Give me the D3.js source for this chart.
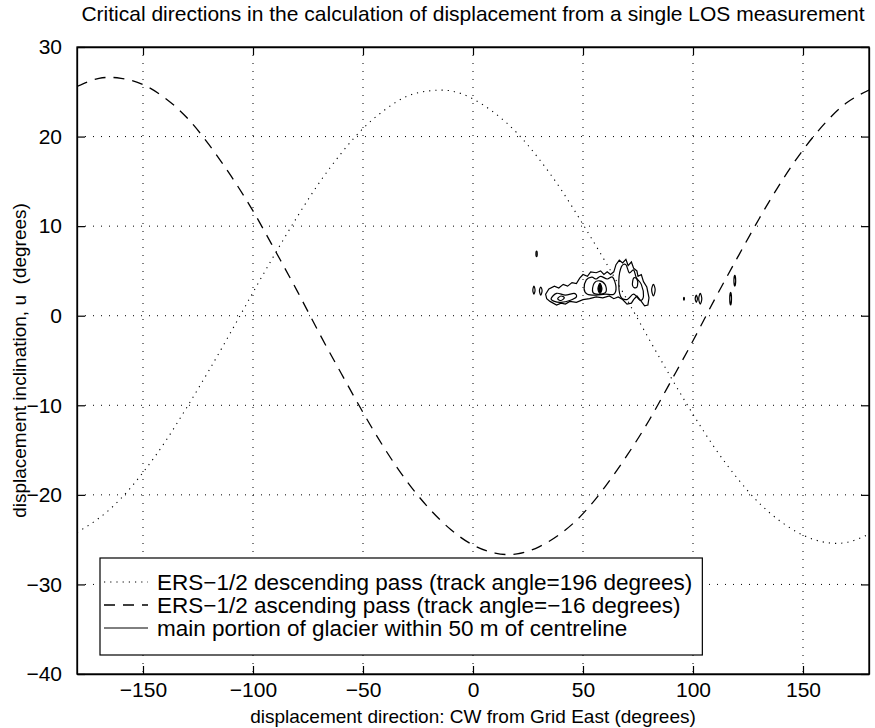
<!DOCTYPE html>
<html><head><meta charset="utf-8">
<script src="https://cdn.jsdelivr.net/npm/d3@7"></script>
<style>body{margin:0;background:#fff}svg{display:block}text{font-family:"Liberation Sans",Arial,Helvetica,sans-serif;fill:#000;white-space:pre}</style>
</head><body><svg id="c" width="875" height="728"></svg>
<script>
const title = "Critical directions in the calculation of displacement from a single LOS measurement";
const xLabel = "displacement direction: CW from Grid East (degrees)";
const yLabel = "displacement inclination, u  (degrees)";
const xTicks = [-150,-100,-50,0,50,100,150];
const yTicks = [-40,-30,-20,-10,0,10,20,30];
const legendLabels = ["ERS\u22121/2 descending pass (track angle=196 degrees)","ERS\u22121/2 ascending pass (track angle=\u221216 degrees)","main portion of glacier within 50 m of centreline"];

const dirs = d3.range(-180,181,10);
const descending = [-24.2,-22.6,-20.4,-17.5,-14.1,-10.2,-6.1,-1.8,2.6,6.9,11.0,14.8,18.1,20.9,23.0,24.5,25.1,25.1,24.2,22.6,20.4,17.5,14.1,10.2,6.1,1.8,-2.6,-6.9,-11.0,-14.8,-18.1,-20.9,-23.0,-24.5,-25.3,-25.3,-24.4];
const ascending = [25.6,26.5,26.5,25.8,24.3,22.1,19.1,15.6,11.7,7.3,2.8,-1.9,-6.4,-10.8,-14.9,-18.5,-21.5,-23.9,-25.6,-26.5,-26.6,-25.8,-24.3,-22.1,-19.1,-15.6,-11.7,-7.3,-2.8,1.9,6.4,10.8,14.9,18.5,21.5,23.8,25.2];

// glacier contours [direction, inclination]
const glacierOuter = [[33.0,2.4],[34.5,3.0],[37,3.3],[39,3.1],[41,3.5],[43,3.3],[45,3.7],[47,3.6],[48.5,4.2],[50,4.6],[52,4.4],[53.5,4.9],[56,4.8],[58,5.0],[59.5,4.6],[61,4.9],[62.5,4.6],[64,4.9],[65,5.7],[66.5,6.2],[68,5.9],[69.5,6.3],[70.5,5.6],[72,6.0],[73,5.3],[74.5,5.0],[75,4.4],[76.5,4.6],[77.5,3.8],[79,3.2],[80,2.0],[79.5,1.2],[78,1.1],[76.5,1.6],[74.5,2.2],[73,1.8],[72,1.4],[70,1.3],[68,1.8],[66,2.1],[64,1.9],[62,2.2],[59,2.0],[56,2.1],[53,1.9],[50,1.8],[47,1.5],[44,1.6],[42,1.3],[40,1.4],[38,1.2],[35,1.6],[33.5,1.9]];
const glacierMid = [[50.5,3.0],[51.5,4.0],[54,4.3],[56,4.1],[58,4.4],[61,4.1],[63.5,4.3],[65,3.2],[64,2.4],[60,2.4],[56,2.3],[52,2.4]];
const glacierInner = [[54.5,2.6],[55,3.6],[57.5,3.9],[60,3.5],[60.5,2.7],[58,2.4]];
const glacierCore = [[56.8,3.0],[57.7,3.6],[58.6,3.0],[57.7,2.5]];
const glacierTail = [[35.5,1.9],[38,2.5],[42,2.3],[46,2.5],[47,2.1],[44,1.7],[40,1.5],[37,1.6]];
const glacierTailCore = [[38.5,1.9],[40,2.2],[41.5,2.0],[40,1.7]];
const glacierRight = [[67,2.2],[66.3,4.0],[67.5,5.5],[69.5,5.7],[71,4.8],[73,5.1],[74.3,4.2],[76.5,3.5],[77.5,2.2],[76,1.7],[73,2.4],[70,1.8]];
const glacierRightCore = [[72.5,3.4],[73,4.2],[74.5,4.1],[74.8,3.4],[73.8,3.1]];
const blobs = [
 [[27.2,2.85],[27.7,3.3],[28.2,2.85],[27.7,2.4]],
 [[30.2,2.8],[30.8,3.2],[31.4,2.8],[30.8,2.3]],
 [[28.6,6.9],[28.9,7.2],[29.2,6.9],[28.9,6.6]],
 [[81.2,2.9],[82,3.5],[82.8,2.9],[82,2.2]],
 [[101,1.9],[101.5,2.3],[102,1.9],[101.5,1.5]],
 [[102.6,1.9],[103.3,2.5],[104,1.9],[103.3,1.3]],
 [[116.7,1.9],[117.1,2.6],[117.5,1.9],[117.1,1.2]],
 [[118.6,3.9],[119,4.5],[119.4,3.9],[119,3.3]],
 [[95.7,1.9],[95.9,2.05],[96.1,1.9],[95.9,1.75]]
];

const L=77,R=869,T=47,B=674;
const svg=d3.select("#c");
const x=d3.scaleLinear().domain([-180,180]).range([L,R]);
const y=d3.scaleLinear().domain([-40,30]).range([B,T]);
const FS=21;

svg.append("defs").append("clipPath").attr("id","clip").append("rect").attr("x",L).attr("y",T).attr("width",R-L).attr("height",B-T);

// grid
const g=svg.append("g").attr("stroke","#000").attr("stroke-width",1).attr("stroke-dasharray","1,7");
xTicks.forEach(v=>g.append("line").attr("x1",x(v)).attr("x2",x(v)).attr("y1",T).attr("y2",B));
yTicks.slice(1,-1).forEach(v=>g.append("line").attr("x1",L).attr("x2",R).attr("y1",y(v)).attr("y2",y(v)));

// axes
const fmt=d=>d<0?"\u2212"+(-d):d;
const xb=svg.append("g").attr("transform",`translate(0,${B})`).call(d3.axisBottom(x).tickValues(xTicks).tickSizeInner(-8).tickSizeOuter(0).tickPadding(8).tickFormat(fmt));
const xt=svg.append("g").attr("transform",`translate(0,${T})`).call(d3.axisTop(x).tickValues(xTicks).tickSizeInner(-8).tickSizeOuter(0).tickFormat(""));
const yl=svg.append("g").attr("transform",`translate(${L},0)`).call(d3.axisLeft(y).tickValues(yTicks).tickSizeInner(-8).tickSizeOuter(0).tickPadding(15).tickFormat(fmt));
const yr=svg.append("g").attr("transform",`translate(${R},0)`).call(d3.axisRight(y).tickValues(yTicks).tickSizeInner(-8).tickSizeOuter(0).tickFormat(""));
[xb,xt,yl,yr].forEach(a=>{a.select(".domain").attr("stroke","#000").attr("stroke-width",1.3);a.selectAll(".tick line").attr("stroke","#000").attr("stroke-width",1.2);a.selectAll("text").attr("font-size",FS).attr("font-family",null);});
svg.append("rect").attr("x",L).attr("y",T).attr("width",R-L).attr("height",B-T).attr("fill","none").attr("stroke","#000").attr("stroke-width",1.3);

// curves
const plot=svg.append("g").attr("clip-path","url(#clip)");
const line=d3.line().x(d=>x(d[0])).y(d=>y(d[1])).curve(d3.curveNatural);
plot.append("path").attr("d",line(dirs.map((d,i)=>[d,descending[i]]))).attr("fill","none").attr("stroke","#000").attr("stroke-width",1.1).attr("stroke-dasharray","1.2,5");
plot.append("path").attr("d",line(dirs.map((d,i)=>[d,ascending[i]]))).attr("fill","none").attr("stroke","#000").attr("stroke-width",1.3).attr("stroke-dasharray","11,8");

const cl=d3.line().x(d=>x(d[0])).y(d=>y(d[1]));
const cg=plot.append("g").attr("fill","none").attr("stroke","#000").attr("stroke-width",1.2);
cg.append("path").attr("d",cl.curve(d3.curveLinearClosed)(glacierOuter));
[glacierMid,glacierInner,glacierTail,glacierRight,glacierRightCore,glacierTailCore].forEach(p=>cg.append("path").attr("d",cl.curve(d3.curveCardinalClosed)(p)));
cg.append("path").attr("d",cl.curve(d3.curveCardinalClosed)(glacierCore)).attr("fill","#000");
blobs.forEach(p=>cg.append("path").attr("d",cl.curve(d3.curveCardinalClosed)(p)));

// legend
const lg=svg.append("g");
const lx=100, ly=558, rowY=[582,605,628];
const LFS=22.5;
const box=lg.append("rect").attr("x",lx).attr("y",ly).attr("height",97).attr("fill","#fff").attr("stroke","#000").attr("stroke-width",1.2);
const styles=[{da:"1.2,5",w:1.1},{da:"11,8",w:1.3},{da:null,w:1}];
let maxW=0;
legendLabels.forEach((t,i)=>{
  const ln=lg.append("line").attr("x1",104).attr("x2",148).attr("y1",rowY[i]).attr("y2",rowY[i]).attr("stroke","#000").attr("stroke-width",styles[i].w);
  if(styles[i].da) ln.attr("stroke-dasharray",styles[i].da);
  const tx=lg.append("text").attr("x",157).attr("y",rowY[i]).attr("dy","0.35em").attr("font-size",LFS).text(t);
  maxW=Math.max(maxW,tx.node().getComputedTextLength());
});
box.attr("width",157+maxW+10-lx);

// titles
svg.append("text").attr("x",(L+R)/2).attr("y",21).attr("text-anchor","middle").attr("font-size",FS).text(title);
svg.append("text").attr("x",(L+R)/2).attr("y",723).attr("text-anchor","middle").attr("font-size",19).text(xLabel);
svg.append("text").attr("transform",`translate(26,${(T+B)/2}) rotate(-90)`).attr("text-anchor","middle").attr("font-size",19).text(yLabel);
</script></body></html>
